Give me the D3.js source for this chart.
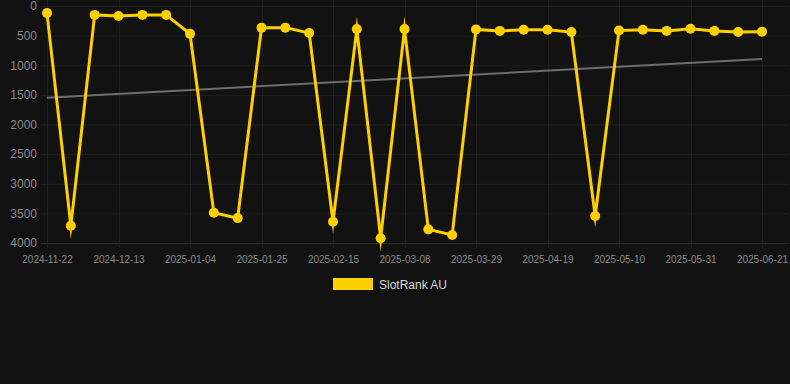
<!DOCTYPE html>
<html><head><meta charset="utf-8">
<script src="https://cdn.jsdelivr.net/npm/d3@7"></script>
<style>html,body{margin:0;padding:0;background:#121212;}svg{display:block;}</style>
</head><body>
<svg id="c" width="790" height="384"></svg>
<script>
const dates = ["2024-11-22","2024-11-29","2024-12-06","2024-12-13","2024-12-20","2024-12-27","2025-01-04","2025-01-11","2025-01-18","2025-01-25","2025-02-01","2025-02-08","2025-02-15","2025-02-22","2025-03-01","2025-03-08","2025-03-15","2025-03-22","2025-03-29","2025-04-05","2025-04-12","2025-04-19","2025-04-26","2025-05-03","2025-05-10","2025-05-17","2025-05-24","2025-05-31","2025-06-07","2025-06-14","2025-06-21"];
const ranks = [120,3710,150,170,150,150,470,3490,3580,365,365,455,3640,390,3920,390,3770,3865,395,420,400,400,440,3545,415,400,420,383,420,440,433];
const trend = [1550,895];
const yTicks = [0,500,1000,1500,2000,2500,3000,3500,4000];
const xTickLabels = ["2024-11-22","2024-12-13","2025-01-04","2025-01-25","2025-02-15","2025-03-08","2025-03-29","2025-04-19","2025-05-10","2025-05-31","2025-06-21"];
const seriesName = "SlotRank AU";

(function () {
const svg = d3.select("#c");
const pLeft = 41, pRight = 788, pTop = 6, pBottom = 243;
const x = d3.scalePoint().domain(dates).range([47, 762]);
const y = d3.scaleLinear().domain([0, 4000]).range([pTop, pBottom]);
const font = "Arial, 'Liberation Sans', sans-serif";

// grid
const g = svg.append("g");
g.selectAll(".hg").data(yTicks).join("line")
  .attr("x1", pLeft).attr("x2", pRight)
  .attr("y1", d => y(d) + 0.5).attr("y2", d => y(d) + 0.5)
  .attr("stroke", d => d === 4000 ? "#2e2e2e" : "#1f1f1f").attr("stroke-width", 1);
g.selectAll(".vg").data(xTickLabels).join("line")
  .attr("x1", d => Math.round(x(d)) + 0.5).attr("x2", d => Math.round(x(d)) + 0.5)
  .attr("y1", 0).attr("y2", pBottom + 5)
  .attr("stroke", "#1f1f1f").attr("stroke-width", 1);

// y axis labels
const yAxis = d3.axisLeft(y).tickValues(yTicks).tickFormat(d3.format("d")).tickSize(0).tickPadding(0);
const ya = svg.append("g").attr("transform", "translate(37,0)").call(yAxis);
ya.select(".domain").remove();
ya.selectAll("text").attr("fill", "#8a8a8a").style("font-family", font).style("font-size", "12px");

// x axis labels
const xAxis = d3.axisBottom(x).tickValues(xTickLabels).tickSize(0).tickPadding(0);
const xa = svg.append("g").attr("transform", "translate(0,253)").call(xAxis);
xa.select(".domain").remove();
xa.selectAll("text").attr("fill", "#8a8a8a").attr("dy", "0.35em").attr("y", 6).style("font-family", font).style("font-size", "10px");

// trend line
svg.append("line")
  .attr("x1", x(dates[0])).attr("x2", x(dates[dates.length - 1]))
  .attr("y1", y(trend[0])).attr("y2", y(trend[1]))
  .attr("stroke", "#6e6e6e").attr("stroke-width", 2);

// series line
const line = d3.line().x((d, i) => x(dates[i])).y(d => y(d));
svg.append("path").datum(ranks).attr("d", line)
  .attr("fill", "none").attr("stroke", "#FFD000").attr("stroke-width", 3)
  .attr("stroke-linejoin", "miter").attr("stroke-miterlimit", 10);

svg.selectAll(".pt").data(ranks).join("circle")
  .attr("cx", (d, i) => x(dates[i])).attr("cy", d => y(d)).attr("r", 5)
  .attr("fill", "#FFD000");

// legend
svg.append("rect").attr("x", 333).attr("y", 278).attr("width", 40).attr("height", 12).attr("fill", "#FFD000");
svg.append("text").attr("x", 379).attr("y", 285).attr("dy", "0.35em").text(seriesName)
  .attr("fill", "#d8d8d8").style("font-family", font).style("font-size", "12px");
})();
</script>
</body></html>
